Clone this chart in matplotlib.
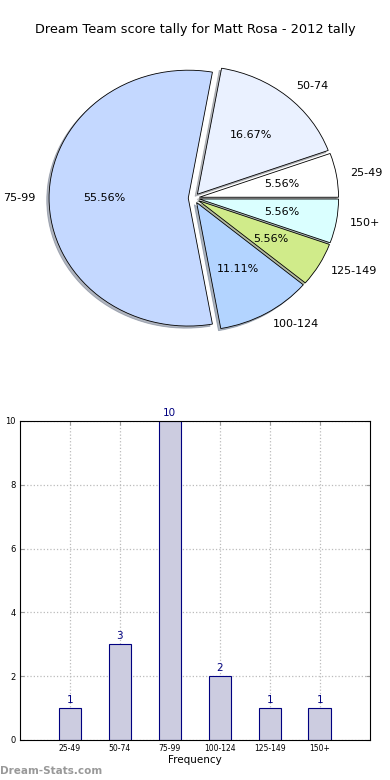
import numpy as np
import matplotlib.pyplot as plt

# Data
categories = ['25-49', '50-74', '75-99', '100-124', '125-149', '150+']
counts = [1, 3, 10, 2, 1, 1]
pie_colors = ['#FFFFFF', '#EAF1FF', '#C4D8FF', '#B3D4FF', '#D0EB8A', '#DAFFFF']

fig = plt.figure(figsize=(3.9, 7.8), dpi=100)

# Pie chart
ax1 = fig.add_axes([0.033, 0.541, 0.928, 0.41])
explode = [0.04] * len(counts)
wedges, texts, autotexts = ax1.pie(counts, labels=categories, colors=pie_colors,
                                   explode=explode, autopct='%.2f%%',
                                   shadow=dict(ox=-0.012, oy=-0.012, shade=0.5),
                                   startangle=0, labeldistance=1.1, pctdistance=0.6,
                                   wedgeprops=dict(edgecolor='black', linewidth=0.6),
                                   textprops=dict(fontsize=8))
ax1.set_aspect('auto')
ax1.set_xlim(-1.3, 1.3)
ax1.set_ylim(-1.25, 1.25)
fig.text(0.5, 0.962, 'Dream Team score tally for Matt Rosa - 2012 tally',
         ha='center', va='center', fontsize=9.3)

# Bar chart
ax2 = fig.add_axes([0.051, 0.0513, 0.897, 0.409])
x = np.arange(len(categories))
ax2.bar(x, counts, width=0.45, color='#CCCCE0', edgecolor='#000080', linewidth=0.8, zorder=2)
for xi, c in zip(x, counts):
    ax2.text(xi, c + 0.1, str(c), ha='center', va='bottom', color='#000080', fontsize=7.5)
ax2.set_xlim(-1, 6)
ax2.set_ylim(0, 10)
ax2.set_xticks(x)
ax2.set_xticklabels(categories, fontsize=5.5)
ax2.set_yticks(np.arange(0, 11, 2))
ax2.tick_params(axis='y', labelsize=6)
ax2.tick_params(direction='in', top=True, right=True, length=3, color='#999999', pad=3)
ax2.grid(True, linestyle=':', color='#BBBBBB', linewidth=0.9, zorder=1)
ax2.set_xlabel('Frequency', fontsize=7.5, labelpad=1)
ax2.set_ylabel('Score Tallies', fontsize=7.5)
ax2.yaxis.set_label_coords(-0.062, 0.5)
for s in ax2.spines.values():
    s.set_linewidth(0.8)

fig.text(0.0, 0.012, 'Dream-Stats.com', fontsize=7.5, color='#999999',
         fontweight='bold', ha='left', va='center')

plt.savefig('out.png', dpi=100)
